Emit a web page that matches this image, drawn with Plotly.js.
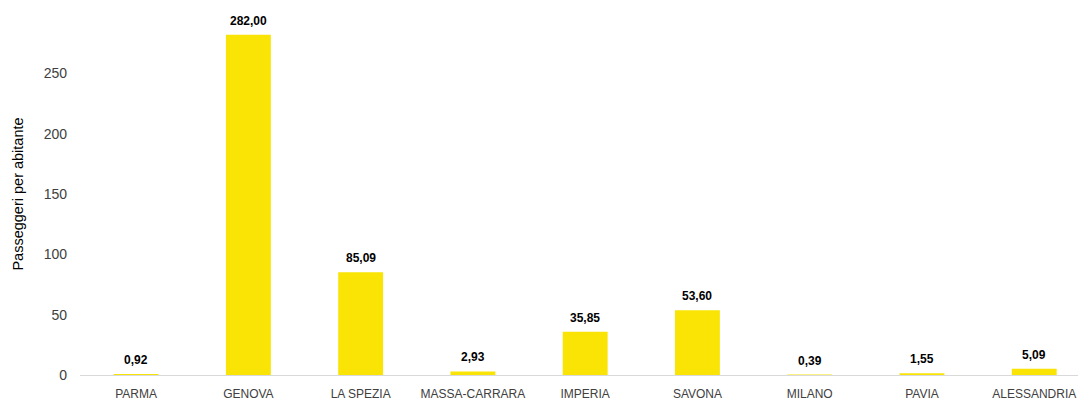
<!DOCTYPE html>
<html>
<head>
<meta charset="utf-8">
<script src="https://cdn.plot.ly/plotly-3.0.1.min.js"></script>
<style>html,body{margin:0;padding:0;background:#fff;}#chart{width:1078px;height:401px;}</style>
</head>
<body>
<div id="chart"></div>
<script>
var categories = ["PARMA", "GENOVA", "LA SPEZIA", "MASSA-CARRARA", "IMPERIA", "SAVONA", "MILANO", "PAVIA", "ALESSANDRIA"];
var values = [0.92, 282.00, 85.09, 2.93, 35.85, 53.60, 0.39, 1.55, 5.09];
var yTicks = [0, 50, 100, 150, 200, 250];
var yTitle = "Passeggeri per abitante";

var labels = values.map(function(v){ return v.toFixed(2).replace('.', ','); });

var trace = {
  type: 'bar',
  x: categories,
  y: values,
  marker: {color: '#F9E405'},
  width: 0.4,
  hoverinfo: 'x+y'
};

var annotations = categories.map(function(c, i){
  return {
    x: c, y: values[i], xref: 'x', yref: 'y',
    text: '<b>' + labels[i] + '</b>',
    showarrow: false,
    yanchor: 'bottom',
    yshift: 5,
    font: {family: 'Liberation Sans, Arial, sans-serif', size: 12, color: '#000000'}
  };
});

var layout = {
  width: 1078,
  height: 401,
  margin: {l: 80, r: 0, t: 13, b: 26},
  paper_bgcolor: '#ffffff',
  plot_bgcolor: '#ffffff',
  showlegend: false,
  font: {family: 'Liberation Sans, Arial, sans-serif', color: '#404040'},
  annotations: annotations,
  xaxis: {
    type: 'category',
    range: [-0.5, 8.39],
    showline: true,
    linecolor: '#d9d9d9',
    linewidth: 1,
    ticks: '',
    showgrid: false,
    zeroline: false,
    tickfont: {size: 12, color: '#404040'},
    ticklabelstandoff: 8
  },
  yaxis: {
    range: [0, 300],
    tickvals: yTicks,
    ticktext: yTicks.map(String),
    showgrid: false,
    zeroline: false,
    showline: false,
    ticks: '',
    tickfont: {size: 14, color: '#404040'},
    ticklabelstandoff: 12,
    title: {text: yTitle, font: {size: 14.5, color: '#000000'}, standoff: 16}
  }
};

Plotly.newPlot('chart', [trace], layout, {displayModeBar: false, staticPlot: true});
</script>
</body>
</html>
